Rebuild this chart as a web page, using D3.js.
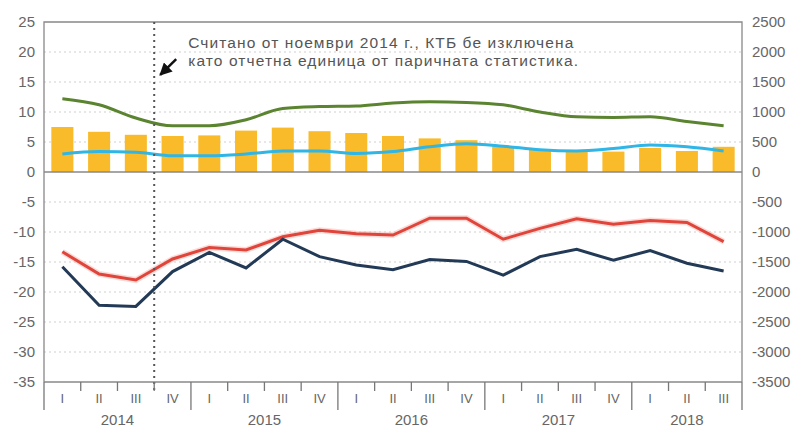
<!DOCTYPE html>
<html>
<head>
<meta charset="utf-8">
<script src="https://cdn.jsdelivr.net/npm/d3@7"></script>
<style>
    body { margin: 0; background: #fff; }
    svg text { font-family: "Liberation Sans", Arial, sans-serif; fill: #666; }
</style>
</head>
<body>
<div id="chart"></div>
<script>
// quarters 2014 I .. 2018 III
const quarters = ["I", "II", "III", "IV", "I", "II", "III", "IV", "I", "II", "III", "IV", "I", "II", "III", "IV", "I", "II", "III"]
const years = ["2014", "2015", "2016", "2017", "2018"]
const yearQuarters = [4, 4, 4, 4, 3]

// right axis (bars)
const barValues = [750, 670, 620, 600, 610, 690, 740, 680, 650, 600, 560, 530, 430, 370, 340, 340, 400, 350, 420]
// left axis (lines)
const greenValues = [12.2, 11.2, 9.0, 7.7, 7.7, 8.7, 10.6, 10.9, 11.0, 11.5, 11.7, 11.6, 11.2, 10.0, 9.2, 9.1, 9.2, 8.4, 7.7]
const blueValues = [3.0, 3.4, 3.3, 2.7, 2.7, 3.0, 3.5, 3.5, 3.1, 3.4, 4.2, 4.7, 4.3, 3.7, 3.5, 3.9, 4.5, 4.2, 3.5]
const redValues = [-13.3, -17.0, -18.0, -14.5, -12.6, -13.0, -10.8, -9.7, -10.3, -10.5, -7.7, -7.7, -11.2, -9.4, -7.8, -8.7, -8.1, -8.4, -11.6]
const navyValues = [-15.8, -22.2, -22.4, -16.6, -13.4, -16.0, -11.2, -14.1, -15.5, -16.3, -14.6, -14.9, -17.2, -14.1, -12.9, -14.7, -13.1, -15.2, -16.5]

const leftTicks = [25, 20, 15, 10, 5, 0, -5, -10, -15, -20, -25, -30, -35]
const rightTicks = [2500, 2000, 1500, 1000, 500, 0, -500, -1000, -1500, -2000, -2500, -3000, -3500]
const noteLines = ["Считано от ноември 2014 г., КТБ бе изключена", "като отчетна единица от паричната статистика."]
const breakIndex = 3

let dimensions = {
    width: 797,
    height: 430,
    margin: { top: 22, right: 55, bottom: 48, left: 44 },
}
dimensions.boundedWidth = dimensions.width - dimensions.margin.left - dimensions.margin.right
dimensions.boundedHeight = dimensions.height - dimensions.margin.top - dimensions.margin.bottom

const wrapper = d3.select("#chart").append("svg")
    .attr("width", dimensions.width)
    .attr("height", dimensions.height)

const bounds = wrapper.append("g")
    .attr("transform", `translate(${dimensions.margin.left},${dimensions.margin.top})`)

// scales
const xScale = d3.scaleBand()
    .domain(d3.range(quarters.length))
    .range([0, dimensions.boundedWidth])
const yLeft = d3.scaleLinear().domain([-35, 25]).range([dimensions.boundedHeight, 0])
const yRight = d3.scaleLinear().domain([-3500, 2500]).range([dimensions.boundedHeight, 0])
const xCenter = i => xScale(i) + xScale.bandwidth() / 2

// gridlines
bounds.append("g")
    .selectAll("line")
    .data(leftTicks.filter(d => d != 0 && d != 25 && d != -35))
    .join("line")
    .attr("x1", 0).attr("x2", dimensions.boundedWidth)
    .attr("y1", d => yLeft(d)).attr("y2", d => yLeft(d))
    .attr("stroke", "#d0d0d0")
    .attr("stroke-width", 1.2)
    .attr("stroke-dasharray", "2,3")

// bars
bounds.append("g")
    .selectAll("rect")
    .data(barValues)
    .join("rect")
    .attr("x", (d, i) => xCenter(i) - xScale.bandwidth() * 0.3)
    .attr("width", xScale.bandwidth() * 0.6)
    .attr("y", d => yRight(d))
    .attr("height", d => yRight(0) - yRight(d))
    .attr("fill", "#f9bb2a")

// frame
bounds.append("path")
    .attr("d", `M0,${dimensions.boundedHeight}V0H${dimensions.boundedWidth}V${dimensions.boundedHeight}`)
    .attr("fill", "none")
    .attr("stroke", "#888")
    .attr("stroke-width", 1.3)
bounds.append("line")
    .attr("x1", 0).attr("x2", dimensions.boundedWidth)
    .attr("y1", yLeft(0)).attr("y2", yLeft(0))
    .attr("stroke", "#888").attr("stroke-width", 1.3)
bounds.append("line")
    .attr("x1", 0).attr("x2", dimensions.boundedWidth)
    .attr("y1", dimensions.boundedHeight).attr("y2", dimensions.boundedHeight)
    .attr("stroke", "#888").attr("stroke-width", 1.3)

// lines
const smoothLine = d3.line()
    .x((d, i) => xCenter(i))
    .y(d => yLeft(d))
    .curve(d3.curveMonotoneX)
const straightLine = d3.line()
    .x((d, i) => xCenter(i))
    .y(d => yLeft(d))

bounds.append("path")
    .attr("d", straightLine(redValues))
    .attr("fill", "none").attr("stroke", "#f6b8b0").attr("stroke-width", 6).attr("opacity", 0.5)
bounds.append("path")
    .attr("d", straightLine(redValues))
    .attr("fill", "none").attr("stroke", "#e0453c").attr("stroke-width", 3)
bounds.append("path")
    .attr("d", straightLine(navyValues))
    .attr("fill", "none").attr("stroke", "#233a57").attr("stroke-width", 3)
bounds.append("path")
    .attr("d", smoothLine(greenValues))
    .attr("fill", "none").attr("stroke", "#5b8431").attr("stroke-width", 3)
bounds.append("path")
    .attr("d", smoothLine(blueValues))
    .attr("fill", "none").attr("stroke", "#2fb6e6").attr("stroke-width", 3)

// break line
const breakX = xScale(breakIndex)
bounds.append("line")
    .attr("x1", breakX).attr("x2", breakX)
    .attr("y1", 0).attr("y2", dimensions.boundedHeight + 10)
    .attr("stroke", "#555")
    .attr("stroke-width", 2)
    .attr("stroke-dasharray", "2,4")

// annotation
wrapper.append("defs").append("marker")
    .attr("id", "arrow")
    .attr("viewBox", "0 0 10 10")
    .attr("refX", 9).attr("refY", 5)
    .attr("markerWidth", 5).attr("markerHeight", 5)
    .attr("orient", "auto")
    .append("path")
    .attr("d", "M0,0L10,5L0,10z")
    .attr("fill", "#111")
bounds.append("line")
    .attr("x1", breakX + 22).attr("y1", yLeft(18.8))
    .attr("x2", breakX + 6).attr("y2", yLeft(16.2))
    .attr("stroke", "#111")
    .attr("stroke-width", 2.5)
    .attr("marker-end", "url(#arrow)")
bounds.append("text")
    .attr("y", yLeft(20.6))
    .style("font-size", "15.5px")
    .style("letter-spacing", "1.1px")
    .style("fill", "#555")
    .selectAll("tspan")
    .data(noteLines)
    .join("tspan")
    .attr("x", breakX + 34)
    .attr("dy", (d, i) => i ? 18 : 0)
    .text(d => d)

// left axis labels
bounds.append("g")
    .selectAll("text")
    .data(leftTicks)
    .join("text")
    .attr("x", -9)
    .attr("y", d => yLeft(d))
    .attr("dy", "0.35em")
    .attr("text-anchor", "end")
    .style("font-size", "15px")
    .text(d => d)

// right axis labels
bounds.append("g")
    .selectAll("text")
    .data(rightTicks)
    .join("text")
    .attr("x", dimensions.boundedWidth + 10)
    .attr("y", d => yRight(d))
    .attr("dy", "0.35em")
    .style("font-size", "15px")
    .text(d => d)

// x axis: quarter ticks, year separators, labels
const yearStarts = yearQuarters.map((n, i) => d3.sum(yearQuarters.slice(0, i)))
const bottom = dimensions.boundedHeight
bounds.append("g")
    .selectAll("line")
    .data(d3.range(quarters.length + 1))
    .join("line")
    .attr("x1", i => i < quarters.length ? xScale(i) : dimensions.boundedWidth)
    .attr("x2", i => i < quarters.length ? xScale(i) : dimensions.boundedWidth)
    .attr("y1", bottom)
    .attr("y2", i => (yearStarts.includes(i) || i == quarters.length) ? bottom + 28 : bottom + 9)
    .attr("stroke", "#777")
    .attr("stroke-width", 1.3)

bounds.append("g")
    .selectAll("text")
    .data(quarters)
    .join("text")
    .attr("x", (d, i) => xCenter(i))
    .attr("y", bottom + 21)
    .attr("text-anchor", "middle")
    .style("font-size", "13px")
    .text(d => d)

bounds.append("g")
    .selectAll("text")
    .data(years)
    .join("text")
    .attr("x", (d, i) => {
        const start = xScale(yearStarts[i])
        const endIdx = yearStarts[i] + yearQuarters[i]
        const end = endIdx < quarters.length ? xScale(endIdx) : dimensions.boundedWidth
        return (start + end) / 2
    })
    .attr("y", bottom + 43)
    .attr("text-anchor", "middle")
    .style("font-size", "15px")
    .text(d => d)
</script>
</body>
</html>
